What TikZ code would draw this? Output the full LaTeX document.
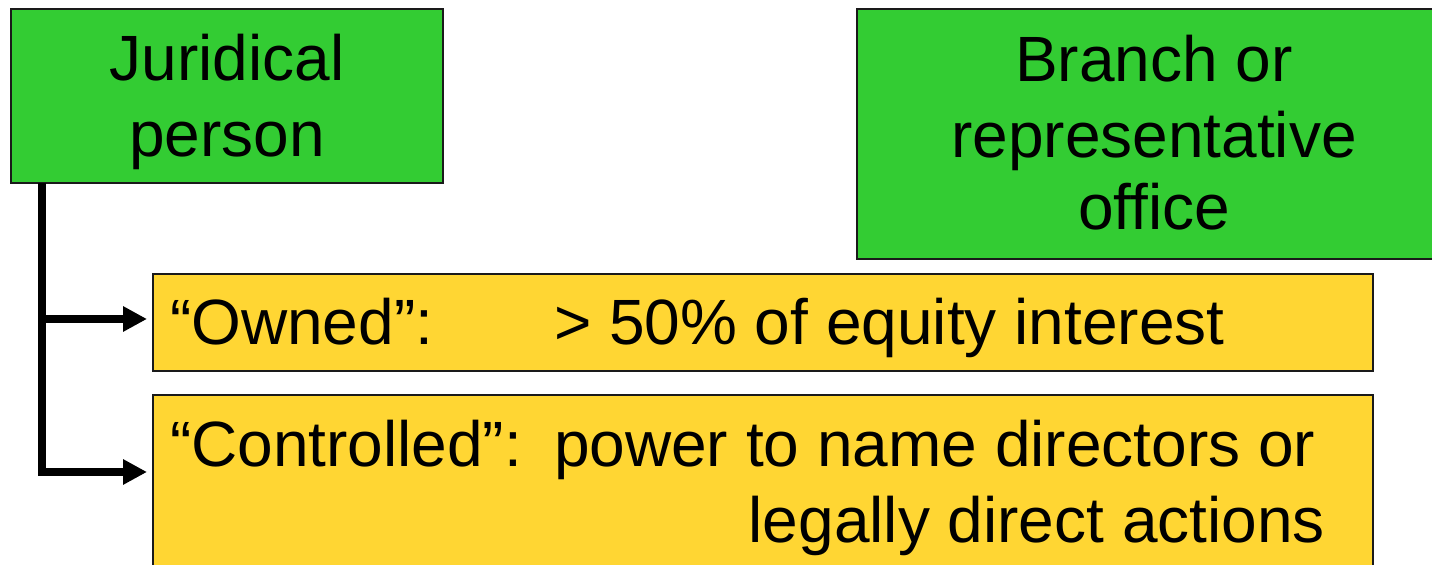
\documentclass[tikz,border=0pt]{standalone}
\usepackage{fontspec}
\setmainfont{Liberation Sans}
\usetikzlibrary{arrows.meta,calc}
\definecolor{boxgreen}{HTML}{33CC33}
\definecolor{boxyellow}{HTML}{FFD633}
\definecolor{edge}{HTML}{1A1A1A}
\begin{document}
\begin{tikzpicture}[x=0.5pt,y=-0.5pt,
  panel/.style={draw=edge,line width=1pt,inner sep=0pt,outer sep=0pt},
  greenpanel/.style={panel,fill=boxgreen},
  yellowpanel/.style={panel,fill=boxyellow},
  label/.style={inner sep=0pt,outer sep=0pt,font=\fontsize{32pt}{37.5pt}\selectfont},
  link/.style={line width=4.3pt,line join=miter,-{Triangle[length=12pt,width=12pt]},shorten >=3pt}]
\useasboundingbox (0,0) rectangle (1432,565);
\clip (0,0) rectangle (1432,565);

% boxes
\node[greenpanel,minimum width=216pt,minimum height=87pt] (jur) at (227,96) {};
\node[greenpanel,minimum width=291.5pt,minimum height=125pt] (branch) at (1148.5,134) {};
\node[yellowpanel,minimum width=610pt,minimum height=48.5pt] (own) at (763,322.5) {};
\node[yellowpanel,minimum width=610pt,minimum height=102.5pt] (ctl) at (763,497.5) {};

% texts
\node[label,anchor=base] (jurA) at (227,81) {Juridical};
\node[label,anchor=base] (jurB) at (227,157) {person};
\node[label,anchor=base] (brA) at (1154,82) {Branch or};
\node[label,anchor=base] (brB) at (1154,158) {representative};
\node[label,anchor=base] (brC) at (1154,230) {office};
\node[label,anchor=base west] (ownA) at (170,345) {“Owned”:};
\node[label,anchor=base west] (ownB) at (554,345) {> 50\% of equity interest};
\node[label,anchor=base west] (ctlA) at (170,467) {“Controlled”:};
\node[label,anchor=base west] (ctlB) at (554,467) {power to name directors or};
\node[label,anchor=base east] (ctlC) at (1325,543) {legally direct actions};

% connectors
\coordinate (trunk) at ($(jur.south west)+(31,0)$);
\coordinate (tapOwn) at ($(trunk)+(0,136)$);
\coordinate (tapCtl) at ($(trunk)+(0,289)$);
\draw[link] (trunk) |- (tapCtl -| ctl.west);
\draw[link] (tapOwn) -- (tapOwn -| own.west);
\end{tikzpicture}
\end{document}
